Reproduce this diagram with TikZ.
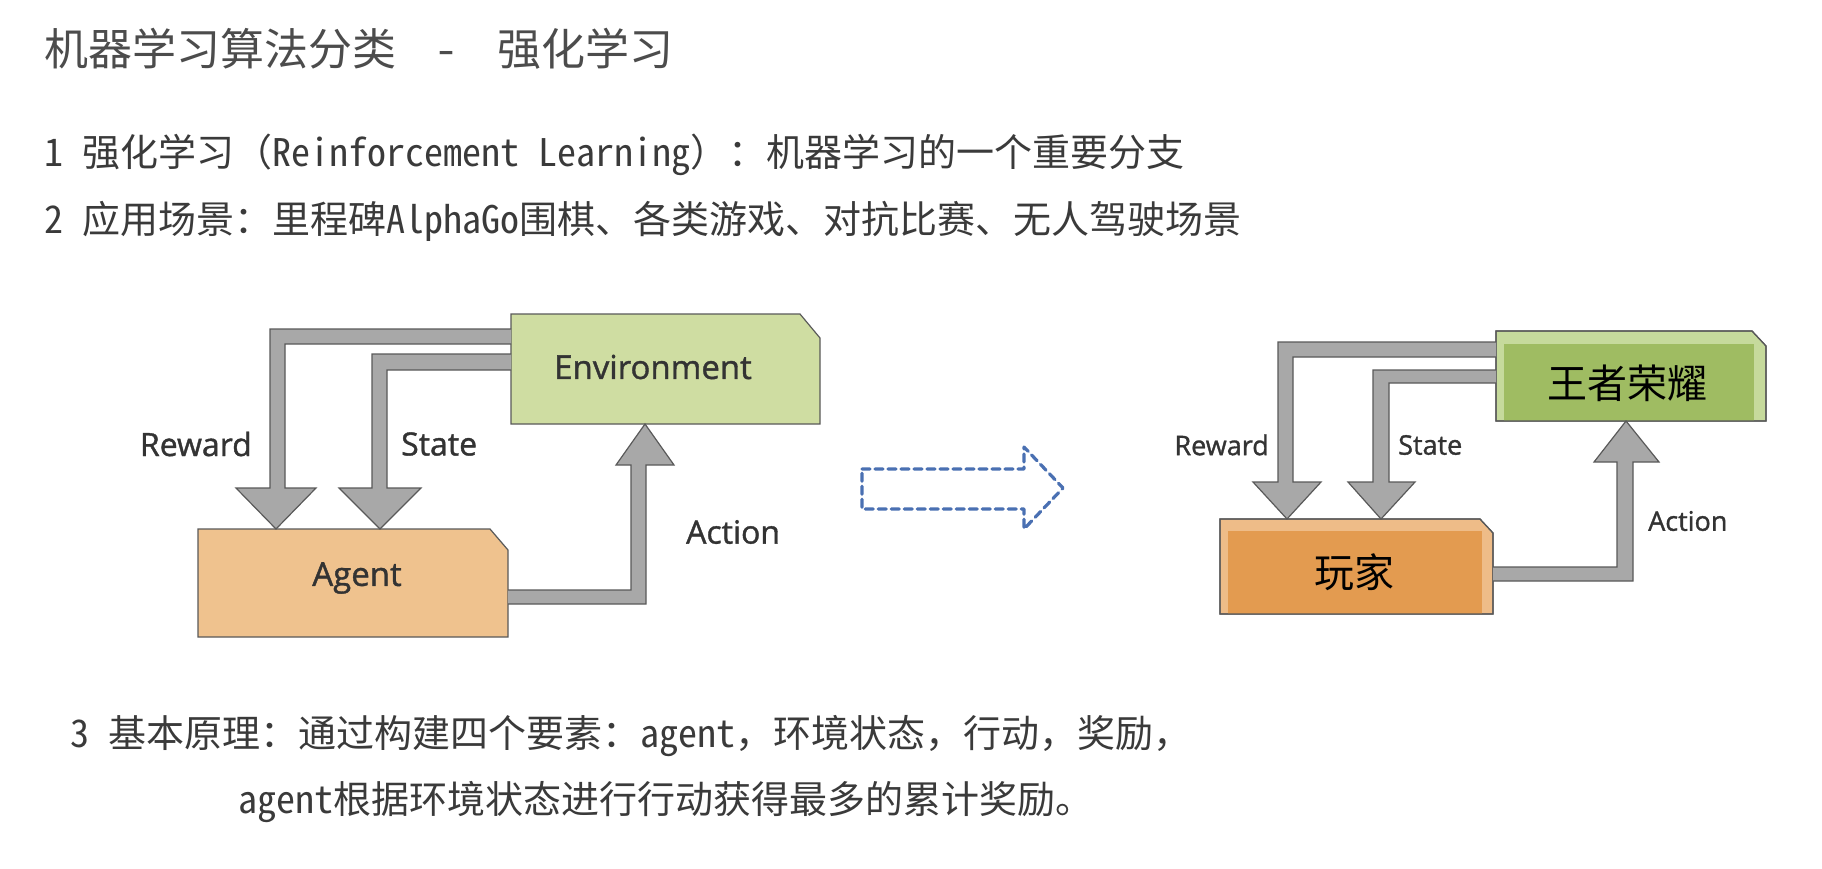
\documentclass[tikz,border=0pt]{standalone}
\usepackage{fontspec}
\newfontfamily\cjkmono{Noto Sans Mono CJK SC}
\newfontfamily\cjk{Noto Sans CJK SC}
\setsansfont[FakeBold=1.2]{Open Sans}
\definecolor{txtgray}{HTML}{3A3A3A}
\definecolor{envgreen}{HTML}{CFDDA2}
\definecolor{agorange}{HTML}{EFC28E}
\definecolor{kinggreen}{HTML}{9FBC62}
\definecolor{kinglight}{HTML}{C6DA9C}
\definecolor{plorange}{HTML}{E39B50}
\definecolor{pllight}{HTML}{EEBC88}
\definecolor{arrgray}{HTML}{A8A8A8}
\definecolor{dashblue}{HTML}{4A70B2}
\tikzset{
  line/.style={font=\cjkmono\fontsize{38}{40}\selectfont, text=txtgray, anchor=west, inner sep=0},
  lbl/.style={font=\sffamily\fontsize{#1}{#1}\selectfont, text=black!80, inner sep=0},
  fat/.style={fill=arrgray, draw=black!65, line width=1.2pt, line join=miter},
  box/.style={draw=black!65, line width=1.2pt}
}
\begin{document}
\begin{tikzpicture}[x=1pt,y=-1pt]
    \useasboundingbox (0,0) rectangle (1822,868);
    % Title and text lines
    \node[line, font=\cjkmono\fontsize{44}{46}\selectfont, text=black!70] (title) at (44,49) {机器学习算法分类\hspace{0.9em}-\hspace{0.9em}强化学习};
    \node[line] (l1) at (44,155) {1 强化学习（Reinforcement Learning）：机器学习的一个重要分支};
    \node[line] (l2) at (44,221) {2 应用场景：里程碑AlphaGo围棋、各类游戏、对抗比赛、无人驾驶场景};
    \node[line] (l3) at (70,736) {3 基本原理：通过构建四个要素：agent，环境状态，行动，奖励，};
    \node[line] (l4) at (238,802) {agent根据环境状态进行行动获得最多的累计奖励。};

    % Left diagram: boxes
    \draw[box, fill=envgreen] (511,314) -- (800,314) -- (820,338) -- (820,424) -- (511,424) -- cycle;
    \draw[box, fill=agorange] (198,529) -- (490,529) -- (508,550) -- (508,637) -- (198,637) -- cycle;
    \node[lbl=33] (env) at (653,367) {Environment};
    \node[lbl=33] (agent) at (357,578) {Agent};
    % Left diagram: fat arrows
    \draw[fat] (511,329) -- (270,329) -- (270,488) -- (236,488) -- (276,529) -- (316,488)
      -- (285,488) -- (285,344) -- (511,344);
    \draw[fat] (511,354) -- (372,354) -- (372,488) -- (339,488) -- (380,529) -- (421,488)
      -- (387,488) -- (387,370) -- (511,370);
    \draw[fat] (508,590) -- (631,590) -- (631,465) -- (616,465) -- (645,424) -- (674,465)
      -- (646,465) -- (646,604) -- (508,604);
    \node[lbl=32, anchor=east] (rew) at (252,444) {Reward};
    \node[lbl=32, anchor=west] (sta) at (401,444) {State};
    \node[lbl=32, anchor=west] (act) at (686,532) {Action};

    % Dashed transfer arrow
    \draw[dashblue, line width=3.2pt, dash pattern=on 8pt off 5pt, line join=round, line cap=round]
      (862,469) -- (1024,469) -- (1024,447) -- (1063,488) -- (1024,529) -- (1024,509) -- (862,509) -- cycle;

    % Right diagram: boxes
    \draw[box, fill=kinglight] (1496,331) -- (1752,331) -- (1766,346) -- (1766,421) -- (1496,421) -- cycle;
    \fill[kinggreen] (1504,344) rectangle (1754,421);
    \draw[box] (1496,331) -- (1752,331) -- (1766,346) -- (1766,421) -- (1496,421) -- cycle;
    \draw[box, fill=pllight] (1220,519) -- (1480,519) -- (1493,533) -- (1493,614) -- (1220,614) -- cycle;
    \fill[plorange] (1228,531) rectangle (1482,614);
    \draw[box] (1220,519) -- (1480,519) -- (1493,533) -- (1493,614) -- (1220,614) -- cycle;
    \node[inner sep=0, font=\cjk\fontsize{40}{40}\selectfont] (king) at (1627,383) {王者荣耀};
    \node[inner sep=0, font=\cjk\fontsize{40}{40}\selectfont] (player) at (1354,572) {玩家};
    % Right diagram: fat arrows
    \draw[fat] (1496,342) -- (1278,342) -- (1278,482) -- (1253,482) -- (1287,519) -- (1321,482)
      -- (1293,482) -- (1293,357) -- (1496,357);
    \draw[fat] (1496,370) -- (1373,370) -- (1373,482) -- (1348,482) -- (1381,519) -- (1415,482)
      -- (1389,482) -- (1389,383) -- (1496,383);
    \draw[fat] (1493,567) -- (1617,567) -- (1617,462) -- (1594,462) -- (1626,421) -- (1659,462)
      -- (1633,462) -- (1633,581) -- (1493,581);
    \node[lbl=27, anchor=east] (rew2) at (1269,445) {Reward};
    \node[lbl=27, anchor=west] (sta2) at (1398,445) {State};
    \node[lbl=27, anchor=west] (act2) at (1648,521) {Action};
\end{tikzpicture}
\end{document}
